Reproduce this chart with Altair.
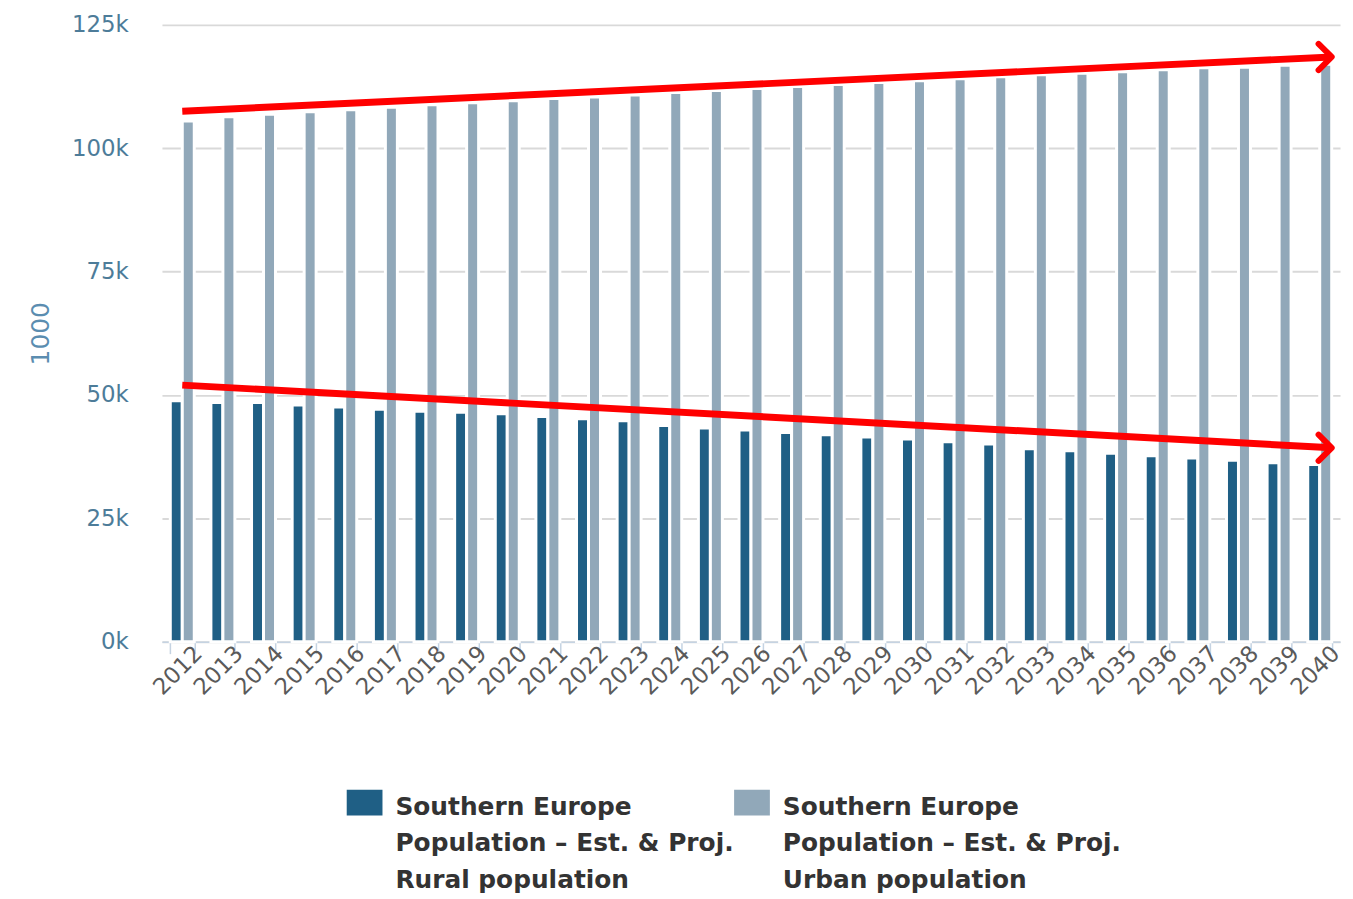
import altair as alt
import pandas as pd

years = ["2012", "2013", "2014", "2015", "2016", "2017", "2018", "2019", "2020",
         "2021", "2022", "2023", "2024", "2025", "2026", "2027", "2028", "2029",
         "2030", "2031", "2032", "2033", "2034", "2035", "2036", "2037", "2038",
         "2039", "2040"]

rural = [48850, 48450, 48450, 47980, 47580, 47120, 46700, 46500, 46170,
         45630, 45160, 44760, 43810, 43290, 42880, 42400, 41940, 41470,
         41070, 40520, 40060, 39110, 38710, 38170, 37700, 37240, 36750,
         36290, 35890]

urban = [105500, 106400, 106900, 107400, 107800, 108300, 108800, 109200, 109600,
         110100, 110400, 110800, 111300, 111700, 112100, 112500, 112900, 113300,
         113700, 114100, 114500, 114900, 115200, 115500, 115900, 116300, 116400,
         116800, 117000]

series = ["Southern Europe|Population – Est. & Proj.|Rural population",
          "Southern Europe|Population – Est. & Proj.|Urban population"]
colors = ["#1f5f85", "#91a8b9"]

# hand-drawn red trend annotations (start year, end year, start value, end value)
trend_start_year = ["2012", "2012"]
trend_end_year = ["2040", "2040"]
trend_start = [107500, 52000]
trend_end = [118500, 39300]

rows = []
for i, y in enumerate(years):
    rows.append({"year": y, "series": series[0], "value": rural[i]})
    rows.append({"year": y, "series": series[1], "value": urban[i]})
df = pd.DataFrame(rows)

trend_df = pd.DataFrame({
    "year": trend_start_year,
    "year2": trend_end_year,
    "value": trend_start,
    "value2": trend_end,
})
arrow_df = pd.DataFrame({"year": trend_end_year, "value": trend_end})

x_scale = alt.Scale(domain=years, paddingInner=0.41, paddingOuter=0.205)
y_scale = alt.Scale(domain=[0, 125000], nice=False)

x_axis = alt.Axis(
    title=None, labelAngle=-45, labelAlign="right", labelBaseline="middle",
    labelFont="DejaVu Sans", labelFontSize=23, labelColor="#5a5a5a",
    labelPadding=-4, labelOffset=16,
    tickBand="extent", tickColor="#c5d3e2", tickSize=12, tickWidth=1.5,
    domainColor="#c5d3e2", domainWidth=1.5, grid=False,
)
y_axis = alt.Axis(
    title="1000", values=[0, 25000, 50000, 75000, 100000, 125000],
    labelExpr="format(datum.value / 1000, 'd') + 'k'",
    labelFont="DejaVu Sans", labelFontSize=23, labelColor="#4d7c99",
    labelPadding=34, ticks=False, domain=False,
    grid=True, gridColor="#d9d9d9", gridWidth=2,
    titleFont="DejaVu Sans", titleFontSize=25, titleFontWeight="normal",
    titleColor="#5b8db0", titlePadding=18,
)

bars = alt.Chart(df).mark_bar(stroke="white", strokeWidth=3).encode(
    x=alt.X("year:N", sort=years, scale=x_scale, axis=x_axis),
    xOffset=alt.XOffset("series:N", sort=series,
                        scale=alt.Scale(domain=series, paddingInner=0, paddingOuter=0)),
    y=alt.Y("value:Q", scale=y_scale, axis=y_axis),
    color=alt.Color(
        "series:N", sort=series,
        scale=alt.Scale(domain=series, range=colors),
        legend=alt.Legend(
            title=None, orient="none", legendX=186, legendY=757,
            direction="horizontal", columns=2, columnPadding=-32,
            padding=0,
            symbolType="M-1,-0.28L1,-0.28L1,1.16L-1,1.16Z", symbolSize=1296,
            symbolStrokeWidth=0, symbolOpacity=1,
            labelExpr="split(datum.label, '|')",
            labelFont="DejaVu Sans", labelFontSize=25,
            labelFontWeight="bold", labelColor="#333333",
            labelOffset=13, labelLimit=600, labelBaseline="top",
        ),
    ),
)

trend = alt.Chart(trend_df).mark_rule(
    color="#ff0000", strokeWidth=7, strokeCap="butt"
).encode(
    x=alt.X("year:N", sort=years, scale=x_scale, axis=x_axis),
    x2=alt.X2("year2:N", bandPosition=1),
    y=alt.Y("value:Q", scale=y_scale, axis=y_axis),
    y2=alt.Y2("value2:Q"),
)

arrows = alt.Chart(arrow_df).mark_point(
    shape="M-1,-1L0,0L-1,1", filled=False, stroke="#ff0000", strokeWidth=6,
    size=700, opacity=1, strokeCap="round", strokeJoin="round",
).encode(
    x=alt.X("year:N", sort=years, scale=x_scale, axis=x_axis, bandPosition=1),
    y=alt.Y("value:Q", scale=y_scale, axis=y_axis),
)

chart = alt.layer(bars, trend, arrows).properties(
    width=1186, height=621,
    padding={"left": 20, "top": 3, "right": 0, "bottom": 0},
    background="white",
).configure(
    view=alt.ViewConfig(strokeWidth=0),
    style={"guide-label": {"lineHeight": 37}},
)

chart.save("out.html", embed_options={"renderer": "svg", "actions": False})
